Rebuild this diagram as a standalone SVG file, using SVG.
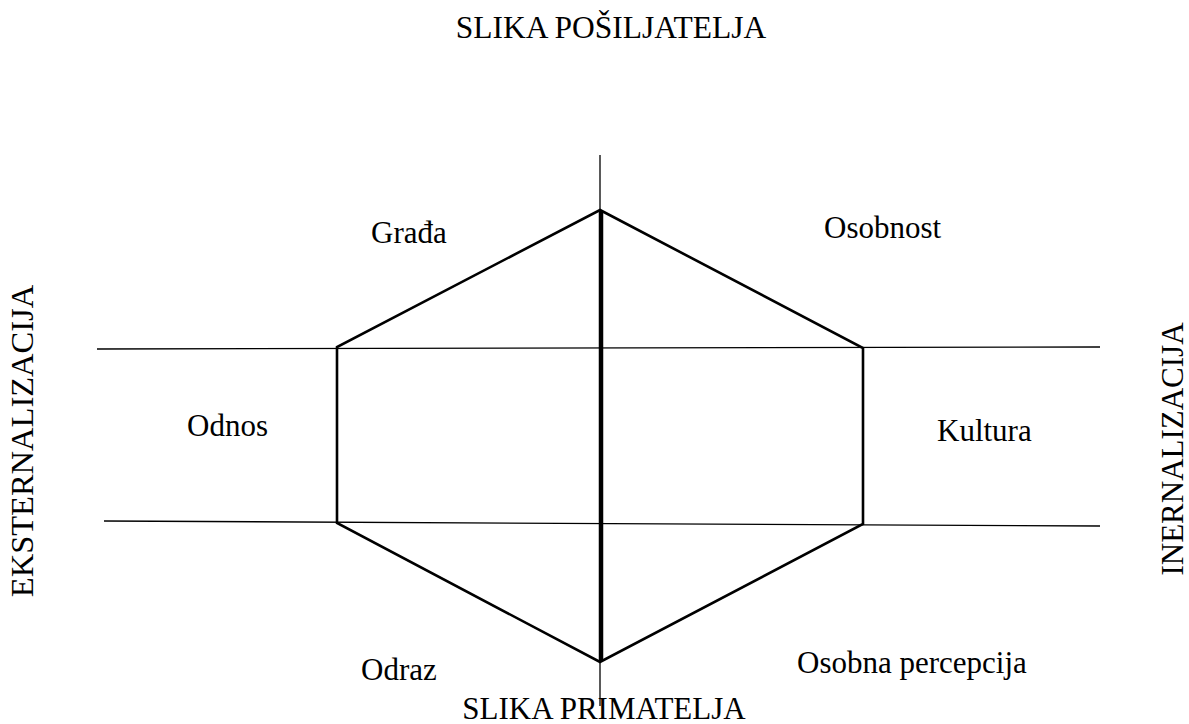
<svg xmlns="http://www.w3.org/2000/svg" width="1189" height="724" viewBox="0 0 1189 724">
<style>
text{font-family:"Liberation Serif","Times New Roman",serif;font-size:31px;fill:#000}
.thin{stroke:#000;stroke-width:1.3;fill:none}
.hex{stroke:#000;stroke-width:2.6;fill:none;stroke-linejoin:miter}
.axis{stroke:#000;stroke-width:4.5;fill:none}
</style>
<rect width="1189" height="724" fill="#fff"/>
<g id="connectors">
<line class="thin" x1="600" y1="155" x2="600" y2="706"/>
<line class="thin" x1="97" y1="349" x2="1100" y2="347"/>
<line class="thin" x1="104" y1="521" x2="1100" y2="526"/>
<polygon class="hex" points="600,210 863,348 863,524 600,662 337,523 337,347"/>
<line class="axis" x1="601" y1="211" x2="601" y2="661"/>
</g>
<g id="title-top"><text x="611" y="38" text-anchor="middle" style="font-size:31.5px">SLIKA POŠILJATELJA</text></g>
<g id="title-bottom"><text x="604" y="719" text-anchor="middle">SLIKA PRIMATELJA</text></g>
<g id="left-axis"><text transform="translate(33,441) rotate(-90)" text-anchor="middle" style="font-size:32.5px">EKSTERNALIZACIJA</text></g>
<g id="right-axis"><text transform="translate(1183,449) rotate(-90)" text-anchor="middle">INERNALIZACIJA</text></g>
<g id="grada"><text x="371" y="243">Građa</text></g>
<g id="osobnost"><text x="824" y="238">Osobnost</text></g>
<g id="odnos"><text x="187" y="436">Odnos</text></g>
<g id="kultura"><text x="937" y="441">Kultura</text></g>
<g id="odraz"><text x="361" y="680">Odraz</text></g>
<g id="osobna-percepcija"><text x="797" y="673">Osobna percepcija</text></g>
</svg>
